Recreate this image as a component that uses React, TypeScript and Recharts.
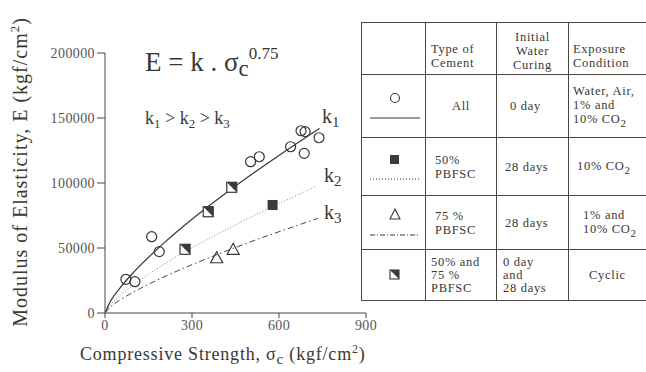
import React from 'react';
import { ComposedChart, Scatter, Line, XAxis, YAxis } from 'recharts';

// measured points (x: compressive strength, y: modulus of elasticity)
const allCement = [
  { x: 72, y: 25900 }, { x: 103, y: 24100 }, { x: 161, y: 58700 }, { x: 187, y: 47200 },
  { x: 502, y: 116400 }, { x: 532, y: 120200 }, { x: 640, y: 127900 }, { x: 676, y: 140200 },
  { x: 690, y: 139500 }, { x: 738, y: 134800 }, { x: 687, y: 122800 },
];
const pbfsc50 = [{ x: 578, y: 83100 }];
const pbfsc75 = [{ x: 385, y: 42500 }, { x: 442, y: 49000 }];
const cyclic = [{ x: 276, y: 49000 }, { x: 356, y: 77900 }, { x: 437, y: 96700 }];

// fitted curves
const curveK1 = [
  { x: 0, y: 0 }, { x: 20, y: 9500 }, { x: 50, y: 18800 }, { x: 100, y: 31600 }, { x: 200, y: 53200 },
  { x: 300, y: 72100 }, { x: 400, y: 89400 }, { x: 500, y: 105700 }, { x: 600, y: 121200 }, { x: 740, y: 142000 },
];
const curveK2 = [
  { x: 0, y: 0 }, { x: 20, y: 6600 }, { x: 50, y: 13100 }, { x: 100, y: 22000 }, { x: 200, y: 37000 },
  { x: 300, y: 50100 }, { x: 400, y: 62100 }, { x: 500, y: 73500 }, { x: 600, y: 84200 }, { x: 730, y: 97600 },
];
const curveK3 = [
  { x: 0, y: 0 }, { x: 20, y: 4900 }, { x: 50, y: 9700 }, { x: 100, y: 16300 }, { x: 200, y: 27400 },
  { x: 300, y: 37200 }, { x: 400, y: 46100 }, { x: 500, y: 54600 }, { x: 600, y: 62500 }, { x: 734, y: 72800 },
];

const xTicks = [0, 300, 600, 900];
const yTicks = [0, 50000, 100000, 150000, 200000];

const ink = '#3a3733';
const serif = '"Liberation Serif", "Times New Roman", "DejaVu Serif", serif';

const OpenCircle = (p: any) => (
  <circle cx={p.cx} cy={p.cy} r={5} fill="none" stroke={ink} strokeWidth={1.2} />
);
const FilledSquare = (p: any) => (
  <rect x={p.cx - 5} y={p.cy - 5} width={10} height={10} fill="#3d3a37" />
);
const OpenTriangle = (p: any) => (
  <polygon
    points={`${p.cx},${p.cy - 6} ${p.cx - 6},${p.cy + 5} ${p.cx + 6},${p.cy + 5}`}
    fill="none"
    stroke={ink}
    strokeWidth={1.2}
  />
);
const HalfSquare = (p: any) => (
  <g>
    <rect x={p.cx - 5} y={p.cy - 5} width={10} height={10} fill="#fff" stroke={ink} strokeWidth={1.2} />
    <polygon points={`${p.cx - 5},${p.cy - 5} ${p.cx + 5},${p.cy - 5} ${p.cx + 5},${p.cy + 5}`} fill="#3d3a37" />
  </g>
);

const cell: React.CSSProperties = {
  border: '1px solid #4a4743',
  padding: '0 4px',
  fontSize: 12.5,
  lineHeight: '14px',
  letterSpacing: 0.7,
  color: ink,
  fontFamily: serif,
  whiteSpace: 'nowrap',
};
const sub: React.CSSProperties = { fontSize: 11, verticalAlign: 'sub', lineHeight: '10px' };

function Sym({ children, line }: { children: React.ReactNode; line?: string }) {
  return (
    <svg width={56} height={44} style={{ display: 'block', margin: '0 auto' }}>
      {children}
      {line && <line x1={4} x2={54} y1={34} y2={34} stroke={ink} strokeWidth={1} strokeDasharray={line === 'solid' ? undefined : line} />}
    </svg>
  );
}

function KeyTable() {
  return (
    <div style={{ position: 'absolute', left: 361, top: 22, width: 285, height: 290, overflow: 'hidden' }}>
      <table style={{ borderCollapse: 'collapse', width: 360, tableLayout: 'fixed' }}>
        <colgroup>
          <col style={{ width: 64 }} />
          <col style={{ width: 71 }} />
          <col style={{ width: 72 }} />
          <col style={{ width: 153 }} />
        </colgroup>
        <tbody>
          <tr style={{ height: 52 }}>
            <td style={cell}></td>
            <td style={{ ...cell, verticalAlign: 'bottom', paddingBottom: 4, paddingLeft: 5 }}>Type of<br />Cement</td>
            <td style={{ ...cell, verticalAlign: 'bottom', paddingBottom: 2, textAlign: 'center' }}>Initial<br />Water<br />Curing</td>
            <td style={{ ...cell, verticalAlign: 'bottom', paddingBottom: 4 }}>Exposure<br />Condition</td>
          </tr>
          <tr style={{ height: 63 }}>
            <td style={{ ...cell, padding: 0 }}>
              <Sym line="solid"><circle cx={29} cy={14} r={4.5} fill="none" stroke={ink} strokeWidth={1.1} /></Sym>
            </td>
            <td style={{ ...cell, textAlign: 'center' }}>All</td>
            <td style={{ ...cell, paddingLeft: 13 }}>0 day</td>
            <td style={cell}>Water, Air,<br />1% and<br />10% CO<span style={sub}>2</span></td>
          </tr>
          <tr style={{ height: 58 }}>
            <td style={{ ...cell, padding: 0 }}>
              <Sym line="1 2"><rect x={24} y={10} width={9} height={9} fill="#3d3a37" /></Sym>
            </td>
            <td style={{ ...cell, paddingLeft: 9 }}>50%<br />PBFSC</td>
            <td style={{ ...cell, paddingLeft: 8 }}>28 days</td>
            <td style={{ ...cell, paddingLeft: 8 }}>10% CO<span style={sub}>2</span></td>
          </tr>
          <tr style={{ height: 54 }}>
            <td style={{ ...cell, padding: 0 }}>
              <Sym line="5 2 1 2"><polygon points="29,8 24,18 34,18" fill="none" stroke={ink} strokeWidth={1.1} /></Sym>
            </td>
            <td style={{ ...cell, paddingLeft: 9 }}>75 %<br />PBFSC</td>
            <td style={{ ...cell, paddingLeft: 8 }}>28 days</td>
            <td style={{ ...cell, paddingLeft: 14 }}>1% and<br />10% CO<span style={sub}>2</span></td>
          </tr>
          <tr style={{ height: 51 }}>
            <td style={{ ...cell, padding: 0 }}>
              <svg width={56} height={20} style={{ display: 'block', margin: '0 auto' }}>
                <rect x={24} y={5} width={9} height={9} fill="#fff" stroke={ink} strokeWidth={1.1} />
                <polygon points="24,5 33,5 33,14" fill="#3d3a37" />
              </svg>
            </td>
            <td style={{ ...cell, paddingLeft: 5, lineHeight: '13px' }}>50% and<br />75 %<br />PBFSC</td>
            <td style={{ ...cell, paddingLeft: 6, lineHeight: '13px' }}>0 day<br />and<br />28 days</td>
            <td style={{ ...cell, paddingLeft: 20 }}>Cyclic</td>
          </tr>
        </tbody>
      </table>
    </div>
  );
}

export default function App() {
  const tick = { fill: '#555', fontSize: 14, fontFamily: serif, letterSpacing: 0.4 };
  return (
    <div style={{ position: 'fixed', left: 0, top: 0, width: 646, height: 372, background: '#fff', overflow: 'hidden' }}>
      <ComposedChart width={646} height={372} margin={{ top: 53, right: 280, bottom: 29, left: 0 }}>
        <XAxis
          type="number"
          dataKey="x"
          domain={[0, 900]}
          ticks={xTicks}
          height={30}
          stroke="#4a4743"
          tick={tick}
          tickSize={5}
          allowDataOverflow
        />
        <YAxis
          type="number"
          dataKey="y"
          domain={[0, 200000]}
          ticks={yTicks}
          width={105}
          stroke="#4a4743"
          tick={tick}
          tickSize={8}
        />
        <Line data={curveK1} dataKey="y" type="monotone" stroke={ink} strokeWidth={1.2} dot={false} isAnimationActive={false} />
        <Line data={curveK2} dataKey="y" type="monotone" stroke="#8a8580" strokeWidth={1} strokeDasharray="1 2" dot={false} isAnimationActive={false} />
        <Line data={curveK3} dataKey="y" type="monotone" stroke="#4a4743" strokeWidth={1} strokeDasharray="6 3 1.5 3" dot={false} isAnimationActive={false} />
        <Scatter data={allCement} dataKey="y" shape={OpenCircle} isAnimationActive={false} />
        <Scatter data={pbfsc50} dataKey="y" shape={FilledSquare} isAnimationActive={false} />
        <Scatter data={pbfsc75} dataKey="y" shape={OpenTriangle} isAnimationActive={false} />
        <Scatter data={cyclic} dataKey="y" shape={HalfSquare} isAnimationActive={false} />
      </ComposedChart>
      <svg width={646} height={372} style={{ position: 'absolute', left: 0, top: 0, pointerEvents: 'none' }} fontFamily={serif} fill={ink}>
        <text x={145} y={71} fontSize={27}>
          E = k . σ<tspan fontSize={23} dy={5}>c</tspan><tspan fontSize={17} dy={-17}>0.75</tspan>
        </text>
        <text x={145} y={124} fontSize={18}>
          k<tspan fontSize={13} dy={4}>1</tspan><tspan dy={-4}> &gt; k</tspan><tspan fontSize={13} dy={4}>2</tspan><tspan dy={-4}> &gt; k</tspan><tspan fontSize={13} dy={4}>3</tspan>
        </text>
        <text x={322} y={123} fontSize={20}>k<tspan fontSize={15} dy={4}>1</tspan></text>
        <text x={324} y={182} fontSize={20}>k<tspan fontSize={15} dy={4}>2</tspan></text>
        <text x={324} y={219} fontSize={20}>k<tspan fontSize={15} dy={4}>3</tspan></text>
        <text x={80} y={360} fontSize={18} letterSpacing={0.8}>
          Compressive Strength, σ<tspan fontSize={15} dy={4}>c</tspan><tspan dy={-4}> (kgf/cm</tspan><tspan fontSize={12} dy={-7}>2</tspan><tspan dy={7}>)</tspan>
        </text>
        <text transform="translate(27,172) rotate(-90)" textAnchor="middle" fontSize={20} letterSpacing={1}>
          Modulus of Elasticity, E (kgf/cm<tspan fontSize={13} dy={-8}>2</tspan><tspan dy={8}>)</tspan>
        </text>
      </svg>
      <KeyTable />
    </div>
  );
}
